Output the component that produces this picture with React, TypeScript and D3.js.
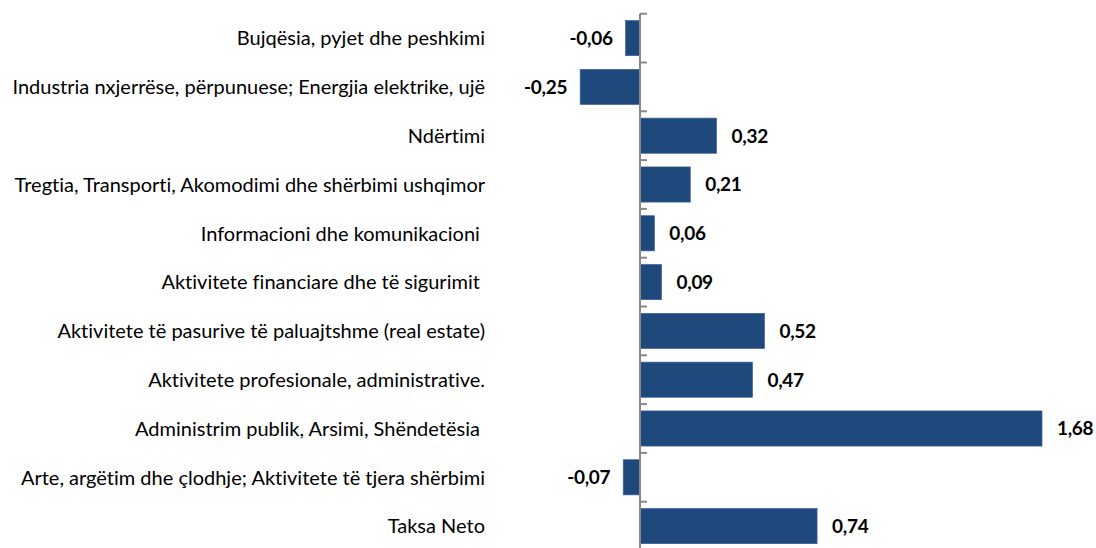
import React from "react";
import * as d3 from "d3";

const categories = [
  "Bujqësia, pyjet dhe peshkimi",
  "Industria nxjerrëse, përpunuese; Energjia elektrike, ujë",
  "Ndërtimi",
  "Tregtia, Transporti, Akomodimi dhe shërbimi ushqimor",
  "Informacioni dhe komunikacioni ",
  "Aktivitete financiare dhe të sigurimit ",
  "Aktivitete të pasurive të paluajtshme (real estate)",
  "Aktivitete profesionale, administrative.",
  "Administrim publik, Arsimi, Shëndetësia ",
  "Arte, argëtim dhe çlodhje; Aktivitete të tjera shërbimi",
  "Taksa Neto",
];
const values = [-0.06, -0.25, 0.32, 0.21, 0.06, 0.09, 0.52, 0.47, 1.68, -0.07, 0.74];

const W = 1096;
const H = 548;
const FONT = "Lato, 'Open Sans', sans-serif";

export default function App() {
  const x = d3.scaleLinear().domain([0, 1.68]).range([640, 1042]);
  const y = d3
    .scaleBand<number>()
    .domain(d3.range(categories.length))
    .range([13.7, 550.5])
    .paddingInner(0.28)
    .paddingOuter(0.14);
  const step = y.step();
  const ticks = d3.range(categories.length + 1).map((i) => 13.7 + i * step);
  const fmt = (v: number) => v.toFixed(2).replace(".", ",");

  return (
    <svg
      width={W}
      height={H}
      style={{
        position: "absolute",
        left: 0,
        top: 0,
        background: "#fff",
        fontVariantLigatures: "none",
      }}
    >
      {values.map((v, i) => {
        const x0 = x(Math.min(0, v));
        const x1 = x(Math.max(0, v));
        const yc = (y(i) as number) + y.bandwidth() / 2;
        return (
          <g key={i}>
            <rect
              x={x0}
              y={y(i)}
              width={x1 - x0}
              height={y.bandwidth()}
              fill="#1F497D"
              stroke="#3a6194"
              strokeWidth={0.7}
            />
            <text
              x={v >= 0 ? x1 + 15 : x0 - 13}
              y={yc}
              dy="0.36em"
              textAnchor={v >= 0 ? "start" : "end"}
              fontFamily={FONT}
              fontWeight="bold"
              fontSize={19}
              letterSpacing={-0.3}
              fill="#000"
            >
              {fmt(v)}
            </text>
            <text
              x={485}
              y={yc}
              dy="0.36em"
              textAnchor="end"
              fontFamily={FONT}
              fontSize={20}
              fill="#000"
              style={{ whiteSpace: "pre" }}
            >
              {categories[i]}
            </text>
          </g>
        );
      })}
      <line x1={640} x2={640} y1={13.7} y2={H} stroke="#898989" strokeWidth={2} />
      {ticks.map((t, i) => (
        <line key={i} x1={640} x2={647} y1={t} y2={t} stroke="#898989" strokeWidth={2} />
      ))}
    </svg>
  );
}
